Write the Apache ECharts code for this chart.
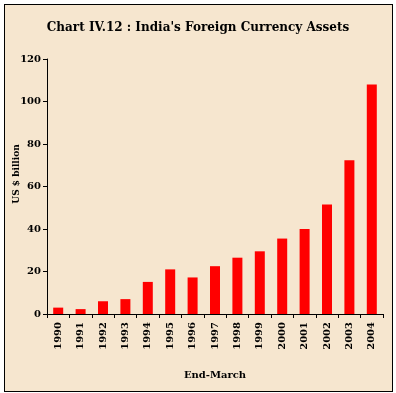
<!DOCTYPE html>
<html>
<head>
<meta charset="utf-8">
<script src="https://cdn.jsdelivr.net/npm/echarts@6/dist/echarts.min.js"></script>
<style>
html,body{margin:0;padding:0;background:#fff;}
#wrap{position:absolute;left:4px;top:4px;width:387px;height:386px;border:1px solid #000;background:#F6E6CF;}
#c{position:absolute;left:0;top:0;width:396px;height:393px;}
</style>
</head>
<body>
<div id="wrap"></div>
<div id="c"></div>
<script>
var years = ['1990','1991','1992','1993','1994','1995','1996','1997','1998','1999','2000','2001','2002','2003','2004'];
var assets = [3.0, 2.3, 6.0, 7.0, 15.1, 21.0, 17.2, 22.5, 26.5, 29.5, 35.5, 40.0, 51.5, 72.3, 108.0];
var yTicks = [0, 20, 40, 60, 80, 100, 120];

var font = '"DejaVu Serif", serif';
var chart = echarts.init(document.getElementById('c'), null, {renderer:'canvas'});
chart.setOption({
  backgroundColor: 'transparent',
  animation: false,
  title: {
    text: "Chart IV.12 : India's Foreign Currency Assets",
    left: 'center', top: 17,
    textStyle: {fontFamily: font, fontWeight: 'bold', fontSize: 12, color: '#000'}
  },
  graphic: [{
    type: 'text',
    x: 17, y: 174,
    rotation: Math.PI / 2,
    style: {
      text: 'US $ billion',
      fontFamily: font, fontWeight: 'bold', fontSize: 9, fill: '#000',
      align: 'center', verticalAlign: 'middle'
    }
  }],
  grid: {left: 47, right: 13, top: 59, bottom: 79, containLabel: false, outerBoundsMode: 'none'},
  xAxis: {
    type: 'category',
    data: years,
    name: 'End-March',
    nameLocation: 'middle',
    nameGap: 56,
    nameTextStyle: {fontFamily: font, fontWeight: 'bold', fontSize: 10, color: '#000'},
    axisLine: {lineStyle: {color: '#000', width: 1}},
    axisTick: {show: true, length: 4, lineStyle: {color: '#000'}},
    axisLabel: {rotate: 90, interval: 0, margin: 8, fontFamily: font, fontWeight: 'bold', fontSize: 10, color: '#000'}
  },
  yAxis: {
    type: 'value',
    min: yTicks[0], max: yTicks[yTicks.length-1], interval: 20,
    axisLine: {show: true, lineStyle: {color: '#000', width: 1}},
    axisTick: {show: true, length: 4, lineStyle: {color: '#000'}},
    splitLine: {show: false},
    axisLabel: {margin: 6, fontFamily: font, fontWeight: 'bold', fontSize: 10, color: '#000'}
  },
  series: [{
    type: 'bar',
    data: assets,
    barWidth: 10,
    itemStyle: {color: '#FF0000'}
  }]
});
</script>
</body>
</html>
